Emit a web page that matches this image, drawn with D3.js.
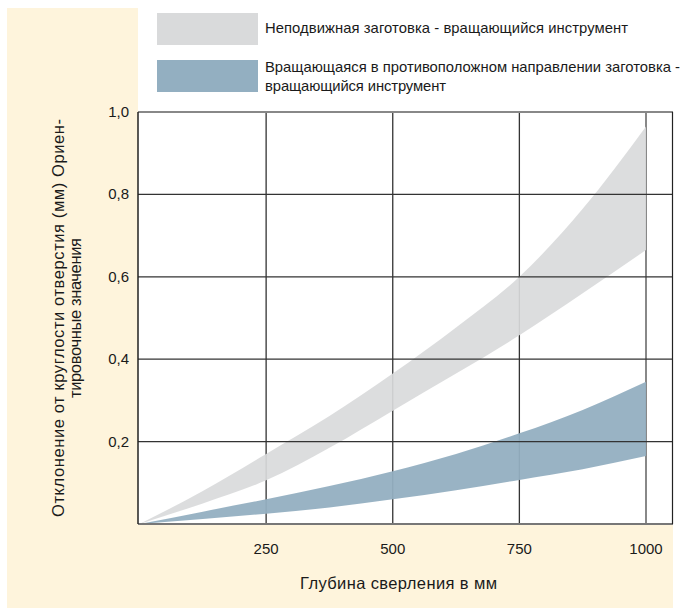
<!DOCTYPE html>
<html><head><meta charset="utf-8">
<script src="https://cdn.jsdelivr.net/npm/d3@7"></script>
<style>body{margin:0;background:#fff}svg{display:block}text{font-family:"Liberation Sans",Arial,sans-serif;fill:#1a1a1a}</style>
</head><body>
<script>
const depth = [0,125,250,375,500,625,750,875,1000];
const grayUpper = [0,0.08,0.17,0.262,0.365,0.477,0.60,0.765,0.965];
const grayLower = [0,0.05,0.106,0.185,0.275,0.365,0.458,0.56,0.665];
const blueUpper = [0,0.03,0.06,0.092,0.128,0.17,0.22,0.277,0.345];
const blueLower = [0,0.012,0.025,0.04,0.06,0.082,0.107,0.133,0.165];
const xTicks = [250,500,750,1000];
const yTicks = [0.2,0.4,0.6,0.8,1.0];
const legendLabels = [["Неподвижная заготовка - вращающийся инструмент"],
  ["Вращающаяся в противоположном направлении заготовка -","вращающийся инструмент"]];
const legendWidths = [[363],[415,181]];
const legendColors = ["#d9dadb","#93afc1"];
const xTitle = "Глубина сверления в мм";
const yTitle = ["Отклонение от круглости отверстия (мм) Ориен-","тировочные значения"];
const yTitleWidths = [398,160];

const W=682,H=608;
const svg=d3.select("body").append("svg").attr("width",W).attr("height",H);
const cream="#fef4dc";
svg.append("rect").attr("x",7).attr("y",8).attr("width",131).attr("height",600).attr("fill",cream);
svg.append("rect").attr("x",7).attr("y",524).attr("width",666).attr("height",84).attr("fill",cream);
const L=138,R=673,T=112,B=524;
svg.append("rect").attr("x",L).attr("y",T).attr("width",R-L).attr("height",B-T).attr("fill","#fff");

const x=d3.scaleLinear().domain([0,1000]).range([139.5,646]);
const y=d3.scaleLinear().domain([0,1]).range([B,T]);

svg.append("g").selectAll("line").data(xTicks).join("line")
  .attr("x1",d=>x(d)).attr("x2",d=>x(d)).attr("y1",T).attr("y2",B)
  .attr("stroke",d=>d===1000?"#888":"#333").attr("stroke-width",d=>d===1000?2:1.3);

const mk=(up,lo)=>d3.area().x((d,i)=>x(depth[i])).y0((d,i)=>y(lo[i])).y1((d,i)=>y(up[i])).curve(d3.curveMonotoneX);
svg.append("path").datum(depth).attr("d",mk(grayUpper,grayLower)).attr("fill","#d9dadb").attr("fill-opacity",0.92);
svg.append("path").datum(depth).attr("d",mk(blueUpper,blueLower)).attr("fill","#93afc1").attr("fill-opacity",0.95);

svg.append("g").selectAll("line").data(yTicks.filter(d=>d<1)).join("line")
  .attr("x1",L).attr("x2",R).attr("y1",d=>y(d)).attr("y2",d=>y(d))
  .attr("stroke","#333").attr("stroke-width",1.3);
svg.append("line").attr("x1",L).attr("x2",R).attr("y1",T).attr("y2",T).attr("stroke","#888").attr("stroke-width",2);
svg.append("line").attr("x1",L).attr("x2",R).attr("y1",B).attr("y2",B).attr("stroke","#777").attr("stroke-width",2);
svg.append("line").attr("x1",L).attr("x2",L).attr("y1",T).attr("y2",B).attr("stroke","#222").attr("stroke-width",1.5);
svg.append("line").attr("x1",R-0.5).attr("x2",R-0.5).attr("y1",T).attr("y2",B).attr("stroke","#222").attr("stroke-width",1.2);

svg.append("g").selectAll("text").data(yTicks).join("text")
  .attr("x",129).attr("y",d=>y(d)+5).attr("text-anchor","end").attr("font-size",15)
  .text(d=>d3.format(".1f")(d).replace(".",","));
svg.append("g").selectAll("text").data(xTicks).join("text")
  .attr("x",d=>x(d)).attr("y",554).attr("text-anchor","middle").attr("font-size",15)
  .text(d=>d);
svg.append("text").attr("x",300).attr("y",589).attr("font-size",16.5)
  .attr("textLength",197).attr("lengthAdjust","spacing").text(xTitle);
const yt=svg.append("g").attr("transform","translate(64,318) rotate(-90)");
yTitle.forEach((t,i)=>yt.append("text").attr("x",-yTitleWidths[i]/2).attr("y",i?17:0)
  .attr("font-size",16.5).attr("textLength",yTitleWidths[i]).attr("lengthAdjust","spacing").text(t));

const lg=svg.append("g");
legendLabels.forEach((lines,i)=>{
  const yy=13+i*47;
  lg.append("rect").attr("x",157).attr("y",yy).attr("width",101).attr("height",32).attr("fill",legendColors[i]);
  lines.forEach((t,j)=>lg.append("text").attr("x",265).attr("y",yy+(lines.length>1?12:20)+j*19)
    .attr("font-size",14.8).attr("textLength",legendWidths[i][j]).attr("lengthAdjust","spacing").text(t));
});
</script>
</body></html>
